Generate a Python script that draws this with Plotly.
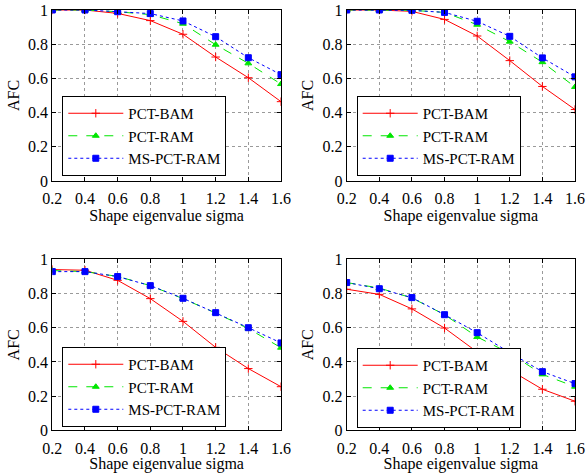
import plotly.graph_objects as go

sigma = [0.2, 0.4, 0.6, 0.8, 1.0, 1.2, 1.4, 1.6]
x_ticks = [0.2, 0.4, 0.6, 0.8, 1.0, 1.2, 1.4, 1.6]
x_ticktext = ["0.2", "0.4", "0.6", "0.8", "1", "1.2", "1.4", "1.6"]
y_ticks = [0, 0.2, 0.4, 0.6, 0.8, 1.0]
y_ticktext = ["0", "0.2", "0.4", "0.6", "0.8", "1"]

series_names = ["PCT-BAM", "PCT-RAM", "MS-PCT-RAM"]

# panel 1 (top-left)
p1_bam = [1.0, 1.0, 0.98, 0.938, 0.858, 0.725, 0.604, 0.464]
p1_ram = [1.0, 1.0, 0.99, 0.973, 0.92, 0.797, 0.688, 0.567]
p1_ms = [1.0, 1.0, 0.99, 0.979, 0.936, 0.844, 0.721, 0.622]
# panel 2 (top-right)
p2_bam = [1.0, 1.0, 0.992, 0.945, 0.848, 0.704, 0.553, 0.418]
p2_ram = [1.0, 1.0, 0.998, 0.986, 0.914, 0.815, 0.695, 0.55]
p2_ms = [1.0, 1.0, 0.998, 0.986, 0.934, 0.846, 0.72, 0.609]
# panel 3 (bottom-left)
p3_bam = [0.94, 0.936, 0.877, 0.77, 0.637, 0.485, 0.361, 0.255]
p3_ram = [0.934, 0.928, 0.90, 0.846, 0.77, 0.686, 0.595, 0.483]
p3_ms = [0.928, 0.928, 0.899, 0.846, 0.772, 0.688, 0.60, 0.511]
# panel 4 (bottom-right)
p4_bam = [0.825, 0.795, 0.71, 0.598, 0.458, 0.353, 0.24, 0.17]
p4_ram = [0.864, 0.832, 0.774, 0.676, 0.546, 0.45, 0.327, 0.255]
p4_ms = [0.864, 0.828, 0.776, 0.676, 0.571, 0.454, 0.343, 0.273]

panels = [
    [p1_bam, p1_ram, p1_ms],
    [p2_bam, p2_ram, p2_ms],
    [p3_bam, p3_ram, p3_ms],
    [p4_bam, p4_ram, p4_ms],
]

W, H = 587, 473
FONT = "Liberation Serif"

# panel boxes in pixels: (left, right, top, bottom)
boxes = [
    (52.3, 281.0, 10.0, 181.0),
    (346.7, 575.0, 10.0, 181.0),
    (52.3, 281.0, 259.3, 430.3),
    (346.7, 575.0, 259.3, 430.3),
]
legend_bottoms = [176.0, 176.0, 427.0, 428.0]


def px_x(v):
    return v / W


def px_y(v):
    return 1 - v / H


styles = [
    dict(color="#ff0000", dash="solid", symbol="cross-thin", size=6),
    dict(color="#00e600", dash="dash", symbol="triangle-up", size=6),
    dict(color="#0000ff", dash="dot", symbol="square", size=6),
]

fig = go.Figure()
layout = dict(
    template="none",
    width=W, height=H,
    margin=dict(l=0, r=0, t=0, b=0, autoexpand=False),
    paper_bgcolor="white", plot_bgcolor="white",
    font=dict(family=FONT, size=16, color="black"),
)

for i, (data, box) in enumerate(zip(panels, boxes)):
    sfx = "" if i == 0 else str(i + 1)
    xa, ya = "x" + sfx, "y" + sfx
    lg = "legend" + sfx
    for j, (vals, name) in enumerate(zip(data, series_names)):
        st = styles[j]
        fig.add_trace(go.Scatter(
            x=sigma, y=vals, name=name, mode="lines+markers",
            xaxis=xa, yaxis=ya, legend=lg,
            line=dict(color=st["color"], dash=st["dash"], width=1),
            marker=dict(symbol=st["symbol"], size=st["size"], color=st["color"],
                        line=dict(color=st["color"], width=1)),
        ))
    l, r, t, b = box
    axcommon = dict(
        automargin=False,
        showline=True, linecolor="black", linewidth=1, mirror="ticks",
        ticks="inside", ticklen=4, tickcolor="black",
        showgrid=True, gridcolor="#9a9a9a", griddash="dot", gridwidth=1,
        zeroline=False, tickfont=dict(family=FONT, size=16),
        ticklabeloverflow="allow",
    )
    layout["xaxis" + sfx] = dict(
        axcommon, domain=[px_x(l), px_x(r)], anchor=ya, range=[0.2, 1.6],
        tickvals=x_ticks, ticktext=x_ticktext, ticklabelstandoff=3,
        title=dict(text="Shape eigenvalue sigma", font=dict(family=FONT, size=16), standoff=0),
    )
    layout["yaxis" + sfx] = dict(
        axcommon, domain=[px_y(b), px_y(t)], anchor=xa, range=[0, 1],
        tickvals=y_ticks, ticktext=y_ticktext,
        title=dict(text="AFC", font=dict(family=FONT, size=16), standoff=4),
    )
    layout[lg] = dict(
        x=px_x(l + 10), y=px_y(legend_bottoms[i]), xanchor="left", yanchor="bottom",
        bgcolor="white", bordercolor="black", borderwidth=1,
        font=dict(family=FONT, size=15), tracegroupgap=0,
        itemwidth=55,
    )

fig.update_layout(**layout)
# remove the default page margin so the figure sits at the window's top-left corner
fig.write_html(
    "out.html",
    config={"displayModeBar": False},
    post_script="document.body.style.margin='0px';",
)
